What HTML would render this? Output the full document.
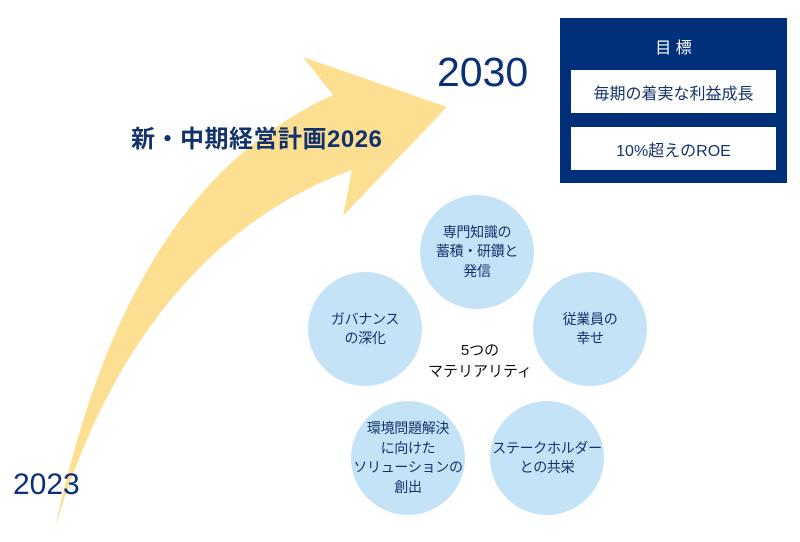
<!DOCTYPE html>
<html><head><meta charset="utf-8"><style>
body{margin:0;width:800px;height:542px;background:#fff;position:relative;overflow:hidden;font-family:"Liberation Sans","Noto Sans CJK JP",sans-serif}
.t{position:absolute;white-space:nowrap}
.c{position:absolute;width:114px;height:114px;border-radius:50%;background:#c5e3f6;display:flex;align-items:center;justify-content:center;text-align:center;color:#14336e;font-size:14px;line-height:19.5px;letter-spacing:-0.3px}
</style></head><body>
<svg width="800" height="542" style="position:absolute;left:0;top:0">
<path d="M55,528 C100,320 180,165 333,95 L303,57 L447,107 L343,216 L352,170 C200,225 105,360 55,528 Z" fill="#fddf92"/>
</svg>
<div class="t" style="left:131px;top:119px;font-size:24px;font-weight:bold;color:#14336e;letter-spacing:0.5px">新・中期経営計画2026</div>
<div class="t" style="left:437px;top:49px;font-size:41px;color:#0a3178">2030</div>
<div class="t" style="left:13px;top:468px;font-size:30px;color:#0a3178">2023</div>
<div style="position:absolute;left:560px;top:18px;width:227px;height:165px;background:#00307a"></div>
<div class="t" style="left:560px;top:34px;width:227px;text-align:center;color:#fff;font-size:16px">目 標</div>
<div style="position:absolute;left:571px;top:70px;width:205px;height:43px;background:#fff;display:flex;align-items:center;justify-content:center;color:#14336e;font-size:16px">毎期の着実な利益成長</div>
<div style="position:absolute;left:571px;top:127px;width:205px;height:43px;background:#fff;display:flex;align-items:center;justify-content:center;color:#14336e;font-size:16px">10%超えのROE</div>
<div class="c" style="left:420px;top:195px">専門知識の<br>蓄積・研鑽と<br>発信</div>
<div class="c" style="left:308px;top:272px">ガバナンス<br>の深化</div>
<div class="c" style="left:533px;top:272px">従業員の<br>幸せ</div>
<div class="c" style="left:351px;top:401px">環境問題解決<br>に向けた<br>ソリューションの<br>創出</div>
<div class="c" style="left:490px;top:401px">ステークホルダー<br>との共栄</div>
<div class="t" style="left:400px;top:340px;width:160px;text-align:center;font-size:15px;line-height:21px;color:#111">5つの<br>マテリアリティ</div>
</body></html>
